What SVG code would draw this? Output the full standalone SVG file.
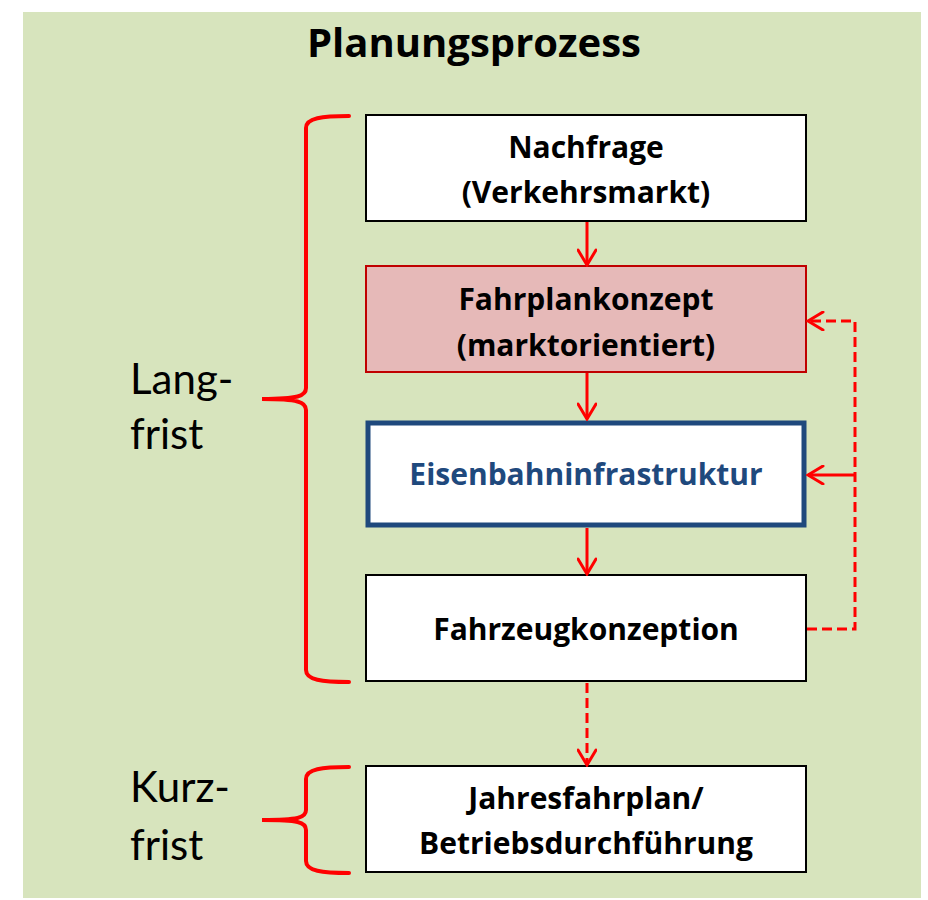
<svg xmlns="http://www.w3.org/2000/svg" width="928" height="900" viewBox="0 0 928 900">
<defs>
<style>
.box{fill:#FFFFFF;stroke:#000000;stroke-width:2}
.t{font-family:"Open Sans",Lato,"Liberation Sans",sans-serif;font-weight:bold;font-size:30px;text-anchor:middle;fill:#000}
.side{font-family:Lato,"Open Sans","Liberation Sans",sans-serif;font-size:42px;fill:#000}
.con{fill:none;stroke:#FF0000;stroke-width:3}
.dash{stroke-dasharray:10,5}
.brace{fill:none;stroke:#FF0000;stroke-width:4;stroke-linecap:round}
</style>
<marker id="ah" viewBox="0 0 20 20" refX="18" refY="10" markerWidth="20" markerHeight="20" markerUnits="userSpaceOnUse" orient="auto">
<path d="M3,1 L18,10 L3,19" fill="none" stroke="#FF0000" stroke-width="3" stroke-linecap="round"/>
</marker>
</defs>
<rect x="0" y="0" width="928" height="900" fill="#FFFFFF"/>
<rect x="23" y="12" width="898" height="886" fill="#D7E4BD"/>
<text x="474" y="57" font-family="'Open Sans',Lato,'Liberation Sans',sans-serif" font-weight="bold" font-size="40" text-anchor="middle">Planungsprozess</text>

<g id="braces">
<path class="brace" d="M349,116 C322,116 306,118 306,128 L306,388 C306,396 298,399 262,399 C298,399 306,402 306,410 L306,670 C306,680 322,682 349,682"/>
<path class="brace" d="M349,767 C322,767 306,769 306,779 L306,810 C306,818 298,820 262,820 C298,820 306,822 306,830 L306,861 C306,871 322,873 349,873"/>
</g>
<g id="labels">
<text class="side" x="130" y="394">Lang-</text>
<text class="side" x="130" y="449">frist</text>
<text class="side" x="130" y="802">Kurz-</text>
<text class="side" x="130" y="860">frist</text>
</g>

<g id="nachfrage">
<rect class="box" x="366" y="115" width="440" height="106"/>
<text class="t" x="586" y="158">Nachfrage</text>
<text class="t" x="586" y="203">(Verkehrsmarkt)</text>
</g>
<g id="fahrplankonzept">
<rect x="366" y="266" width="440" height="106" fill="#E6B9B8" stroke="#C00000" stroke-width="2"/>
<text class="t" x="586" y="310">Fahrplankonzept</text>
<text class="t" x="586" y="356">(marktorientiert)</text>
</g>
<g id="eisenbahninfrastruktur">
<rect x="368" y="423" width="436" height="102" fill="#FFFFFF" stroke="#1F497D" stroke-width="5"/>
<text class="t" x="586" y="485" style="fill:#1F497D">Eisenbahninfrastruktur</text>
</g>
<g id="fahrzeugkonzeption">
<rect class="box" x="366" y="575" width="440" height="106"/>
<text class="t" x="586" y="640">Fahrzeugkonzeption</text>
</g>
<g id="jahresfahrplan">
<rect class="box" x="366" y="766" width="440" height="106"/>
<text class="t" x="586" y="809">Jahresfahrplan/</text>
<text class="t" x="586" y="854">Betriebsdurchführung</text>
</g>

<g id="connectors">
<line class="con" x1="587" y1="222" x2="587" y2="265" marker-end="url(#ah)"/>
<line class="con" x1="587" y1="373" x2="587" y2="419" marker-end="url(#ah)"/>
<line class="con" x1="587" y1="528" x2="587" y2="574" marker-end="url(#ah)"/>
<line class="con dash" x1="587" y1="683" x2="587" y2="765" marker-end="url(#ah)"/>
<polyline class="con dash" points="807,629 855,629 855,321 808,321" marker-end="url(#ah)"/>
<line class="con" x1="855" y1="475" x2="808" y2="475" marker-end="url(#ah)"/>
</g>
</svg>
